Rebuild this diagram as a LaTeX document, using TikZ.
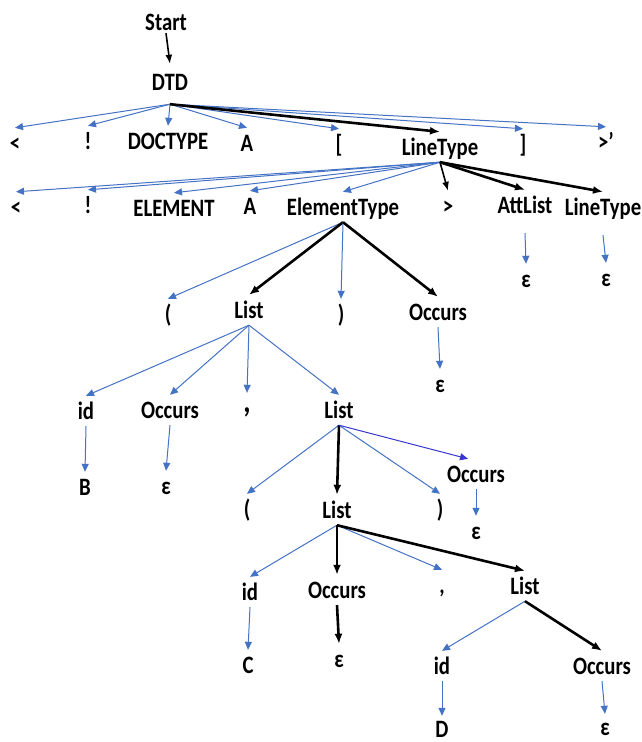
\documentclass[tikz,border=0pt]{standalone}
\usepackage{fontspec}
\setmainfont{Carlito}[FakeStretch= 0.83]
\usetikzlibrary{arrows.meta}
\definecolor{edgeblue}{RGB}{68,114,196}
\definecolor{deepblue}{RGB}{55,55,205}

\begin{document}
\begin{tikzpicture}[x= 1pt, y= -1pt,
	sym/.style= {font= \fontsize{25}{25}\selectfont\bfseries, inner sep= 0pt, minimum height= 30pt, text height= 16pt, text depth= 0pt},
	blu/.style= {draw= edgeblue, line width= 1pt, -{Triangle[length= 8pt, width= 7pt]}},
	blk/.style= {draw= black, line width= 1.6pt, -{Latex[length= 9pt, width= 7pt]}},
	heavy/.style= {draw= black, line width= 2.6pt, -{Latex[length= 10pt, width= 8pt]}}]
	\useasboundingbox (0, 0) rectangle (641, 742);%余白

	\node[sym] (start) at (166, 22) {Start};
	\node[sym] (dtd) at (170, 82) {DTD};

	\node[sym] (lt1) at (15, 143) {<};%2段目
	\node[sym] (ex1) at (88, 141) {!};
	\node[sym] (doctype) at (168, 141) {DOCTYPE};
	\node[sym] (a1) at (247, 143) {A};
	\node[sym] (lb) at (339, 144) {[};
	\node[sym] (ltype1) at (440, 147) {LineType};
	\node[sym] (rb) at (523, 144) {]};
	\node[sym] (gt1) at (606, 142) {>'};

	\node[sym] (lt2) at (16, 207) {<};%3段目
	\node[sym] (ex2) at (88, 205) {!};
	\node[sym] (element) at (174, 208) {ELEMENT};
	\node[sym] (a2) at (250, 206) {A};
	\node[sym] (etype) at (343, 207) {ElementType};
	\node[sym] (gt2) at (448, 206) {>};
	\node[sym] (attlist) at (525, 205) {AttList};
	\node[sym] (ltype2) at (603, 207) {LineType};
	\node[sym] (eps1) at (526, 279) {ε};
	\node[sym] (eps2) at (606, 278) {ε};

	\node[sym] (lp1) at (168, 314) {(};%4段目
	\node[sym] (list1) at (249, 310) {List};
	\node[sym] (rp1) at (341, 314) {)};
	\node[sym] (occ1) at (438, 312) {Occurs};
	\node[sym] (eps3) at (440, 384) {ε};

	\node[sym] (id1) at (86, 411) {id};%5段目
	\node[sym] (occ2) at (170, 410) {Occurs};
	\node[sym, font= \fontsize{34}{34}\selectfont\bfseries] (comma1) at (247, 404) {,};
	\node[sym] (list2) at (339, 410) {List};
	\node[sym] (b) at (85, 487) {B};
	\node[sym] (eps4) at (166, 486) {ε};

	\node[sym] (lp2) at (247, 509) {(};%6段目
	\node[sym] (list3) at (337, 510) {List};
	\node[sym] (rp2) at (440, 509) {)};
	\node[sym] (occ3) at (476, 474) {Occurs};
	\node[sym] (eps5) at (476, 531) {ε};

	\node[sym] (id2) at (250, 592) {id};%7段目
	\node[sym] (occ4) at (337, 590) {Occurs};
	\node[sym] (comma2) at (442, 585) {,};
	\node[sym] (list4) at (525, 586) {List};
	\node[sym] (c) at (248, 665) {C};
	\node[sym] (eps6) at (339, 659) {ε};

	\node[sym] (id3) at (442, 666) {id};%8段目
	\node[sym] (occ5) at (602, 666) {Occurs};
	\node[sym, minimum height= 16pt] (d) at (442, 729) {D};
	\node[sym, minimum height= 16pt] (eps7) at (605, 727) {ε};

	\coordinate (dtdo) at ([yshift= -7pt]dtd.south);%DTDの分岐点
	\draw[blk] ([yshift= 4pt]start.south) -- ([yshift= 3pt]dtd.north);
	\draw[blu] (dtdo) -- (lt1.north);
	\draw[blu] (dtdo) -- (ex1.north);
	\draw[blu] (dtdo) -- (doctype.north);
	\draw[blu] (dtdo) -- (a1.north);
	\draw[blu] (dtdo) -- (lb.north);
	\draw[blu] (dtdo) -- (rb.north);
	\draw[blu] (dtdo) -- (gt1.north);
	\draw[heavy] (dtdo) -- (ltype1.north);

	\draw[blu] (ltype1.south) -- (lt2.north);%LineType- 子
	\draw[blu] (ltype1.south) -- (ex2.north);
	\draw[blu] (ltype1.south) -- (element.north);
	\draw[blu] (ltype1.south) -- (a2.north);
	\draw[blu] (ltype1.south) -- (etype.north);
	\draw[blk] (ltype1.south) -- (gt2.north);
	\draw[heavy] (ltype1.south) -- (attlist.north);
	\draw[heavy] (ltype1.south) -- (ltype2.north);
	\draw[blu] ([yshift= -13pt]attlist.south) -- (eps1.north);
	\draw[blu] ([yshift= -13pt]ltype2.south) -- (eps2.north);

	\draw[blu] (etype.south) -- (lp1.north);%ElementType- 子
	\draw[heavy] (etype.south) -- (list1.north);
	\draw[blu] (etype.south) -- (rp1.north);
	\draw[heavy] (etype.south) -- (occ1.north);
	\draw[blu] (occ1.south) -- (eps3.north);

	\draw[blu] (list1.south) -- (id1.north);%List- 子
	\draw[blu] (list1.south) -- (occ2.north);
	\draw[blu] (list1.south) -- ([yshift= -4pt]comma1.north);
	\draw[blu] (list1.south) -- (list2.north);
	\draw[blu] (id1.south) -- (b.north);
	\draw[blu] (occ2.south) -- (eps4.north);

	\draw[blu] (list2.south) -- (lp2.north);%List- 子
	\draw[heavy] (list2.south) -- (list3.north);
	\draw[blu] (list2.south) -- (rp2.north);
	\draw[blu, draw= deepblue] (list2.south) -- ([xshift= -8pt]occ3.north);
	\draw[blu] (occ3.south) -- (eps5.north);

	\draw[blu] (list3.south) -- (id2.north);%List- 子
	\draw[heavy] (list3.south) -- (occ4.north);
	\draw[blu] (list3.south) -- (comma2.north);
	\draw[heavy] (list3.south) -- (list4.north);
	\draw[blu] (id2.south) -- (c.north);
	\draw[heavy] (occ4.south) -- (eps6.north);

	\draw[blu] (list4.south) -- (id3.north);%List- 子
	\draw[heavy] (list4.south) -- (occ5.north);
	\draw[blu] (id3.south) -- ([yshift= 5pt]d.north);
	\draw[blu] (occ5.south) -- ([yshift= 5pt]eps7.north);
\end{tikzpicture}
\end{document}
